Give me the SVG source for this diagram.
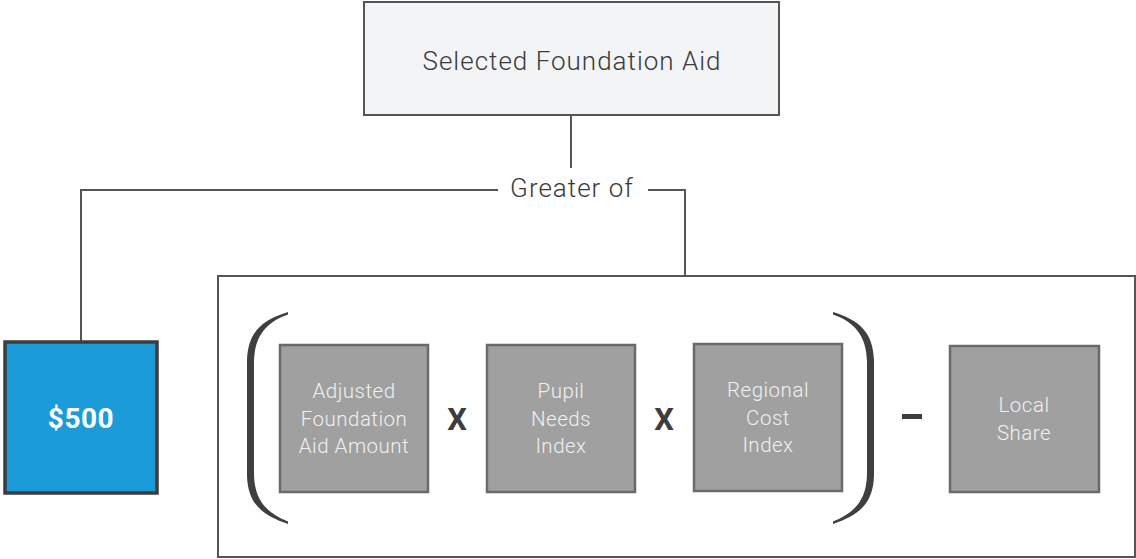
<svg xmlns="http://www.w3.org/2000/svg" width="1136" height="559" viewBox="0 0 1136 559">
  <style>
    .title { font-family: Roboto, "Liberation Sans", sans-serif; font-size: 26px; font-weight: 300; fill: #3a3a3a; letter-spacing: 1px; }
    .term { font-family: Roboto, "Liberation Sans", sans-serif; font-size: 20.5px; font-weight: 300; fill: #f0f0f0; text-anchor: middle; letter-spacing: 0.5px; }
    .op { font-family: Roboto, "Liberation Sans", sans-serif; font-size: 31px; font-weight: bold; fill: #3d3d3d; text-anchor: middle; }
    .box { fill: #a0a0a0; stroke: #6a6a6a; stroke-width: 2.5; }
    .wire { fill: none; stroke: #555; stroke-width: 2; }
    .paren { fill: #3f3f3f; }
  </style>

  <!-- connectors -->
  <g id="connectors">
    <line class="wire" x1="571" y1="115" x2="571" y2="168"/>
    <polyline class="wire" points="498,190 81,190 81,341"/>
    <polyline class="wire" points="648,190 685,190 685,277"/>
  </g>

  <g id="selected-foundation-aid">
    <rect x="364" y="2" width="415" height="113" fill="#f3f4f6" stroke="#555" stroke-width="2"/>
    <text class="title" x="572" y="70" text-anchor="middle">Selected Foundation Aid</text>
  </g>

  <g id="greater-of">
    <text class="title" x="572" y="197" text-anchor="middle">Greater of</text>
  </g>

  <g id="minimum-500">
    <rect x="5" y="342" width="152" height="151" fill="#1b9cd8" stroke="#3d3d3d" stroke-width="3.5"/>
    <text x="81" y="428" text-anchor="middle" font-family="Roboto, 'Liberation Sans', sans-serif" font-size="28" font-weight="bold" fill="#ffffff" letter-spacing="0.5">$500</text>
  </g>

  <g id="formula">
    <rect x="218" y="276" width="917" height="281" fill="#ffffff" stroke="#555" stroke-width="2"/>

    <!-- brackets: tapered crescents -->
    <path class="paren" d="M288,312 C262,320 248,332 247,360 L247,476 C248,504 262,515 288,524 L288,521.5 C267,513 254.5,501 254,474 L254,362 C254.5,335 267,322 288,314.5 Z"/>
    <path class="paren" d="M833,312 C859,320 873,332 874,360 L874,476 C873,504 859,515 833,524 L833,521.5 C854,513 866.5,501 867,474 L867,362 C866.5,335 854,322 833,314.5 Z"/>

    <g id="adjusted-foundation-aid-amount">
      <rect class="box" x="280" y="345" width="148" height="147"/>
      <text class="term" x="354" y="398">Adjusted</text>
      <text class="term" x="354" y="426">Foundation</text>
      <text class="term" x="354" y="453">Aid Amount</text>
    </g>

    <text class="op" x="457" y="430">X</text>

    <g id="pupil-needs-index">
      <rect class="box" x="487" y="345" width="148" height="147"/>
      <text class="term" x="561" y="398">Pupil</text>
      <text class="term" x="561" y="426">Needs</text>
      <text class="term" x="561" y="453">Index</text>
    </g>

    <text class="op" x="664" y="430">X</text>

    <g id="regional-cost-index">
      <rect class="box" x="694" y="344" width="148" height="147"/>
      <text class="term" x="768" y="397">Regional</text>
      <text class="term" x="768" y="425">Cost</text>
      <text class="term" x="768" y="452">Index</text>
    </g>

    <rect x="902" y="414" width="20" height="5" fill="#3d3d3d"/>

    <g id="local-share">
      <rect class="box" x="950" y="346" width="149" height="146"/>
      <text class="term" x="1024" y="412">Local</text>
      <text class="term" x="1024" y="440">Share</text>
    </g>
  </g>
</svg>
